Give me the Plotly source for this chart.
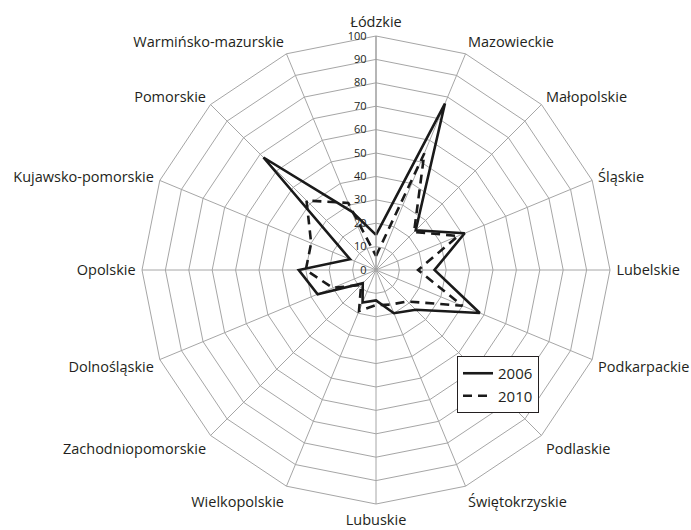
import plotly.graph_objects as go

categories = ["Łódzkie", "Mazowieckie", "Małopolskie", "Śląskie", "Lubelskie",
              "Podkarpackie", "Podlaskie", "Świętokrzyskie", "Lubuskie",
              "Wielkopolskie", "Zachodniopomorskie", "Dolnośląskie", "Opolskie",
              "Kujawsko-pomorskie", "Pomorskie", "Warmińsko-mazurskie"]
values_2006 = [15, 77, 24, 41, 25, 48, 24, 20, 13, 15, 8, 27, 33, 12, 68, 27]
values_2010 = [6, 54, 23, 38, 18, 40, 19, 16, 15, 19, 9, 20, 30, 30, 42, 31]
radial_ticks = list(range(0, 101, 10))

def closed(seq):
    return list(seq) + [seq[0]]

fig = go.Figure()
fig.add_trace(go.Scatterpolar(
    r=closed(values_2006), theta=closed(categories), mode="lines", name="2006",
    line=dict(color="#1a1a1a", width=2.6)))
fig.add_trace(go.Scatterpolar(
    r=closed(values_2010), theta=closed(categories), mode="lines", name="2010",
    line=dict(color="#1a1a1a", width=2.6, dash="9px,6px")))

fig.update_layout(
    width=691, height=530,
    margin=dict(l=0, r=0, t=0, b=0),
    paper_bgcolor="white",
    font=dict(family="Open Sans", color="#231f20", size=14.5),
    showlegend=True,
    legend=dict(x=457/691, y=1-356/530, xanchor="left", yanchor="top",
                bordercolor="#231f20", borderwidth=1, bgcolor="white",
                font=dict(size=15), itemwidth=30, tracegroupgap=2),
    polar=dict(
        domain=dict(x=[(376-234)/691, (376+234)/691], y=[(530-504)/530, (530-36)/530]),
        bgcolor="white",
        gridshape="linear",
        radialaxis=dict(range=[0, 100], tickvals=radial_ticks,
                        ticktext=[str(t) for t in radial_ticks],
                        angle=90, tickangle=90, side="counterclockwise",
                        showline=True, linecolor="#999999", linewidth=1,
                        gridcolor="#a6a6a6", gridwidth=1,
                        ticks="outside", ticklen=5, tickcolor="rgba(0,0,0,0)",
                        tickfont=dict(size=11, color="#231f20")),
        angularaxis=dict(direction="clockwise", rotation=90,
                         showline=True, linecolor="#a6a6a6", linewidth=1,
                         gridcolor="#a6a6a6", gridwidth=1,
                         ticks="outside", ticklen=3, tickcolor="rgba(0,0,0,0)",
                         tickfont=dict(size=14.5, color="#231f20")),
    ),
)
fig.write_html("out.html", config={"displayModeBar": False},
               post_script="document.body.style.margin='0px';")
